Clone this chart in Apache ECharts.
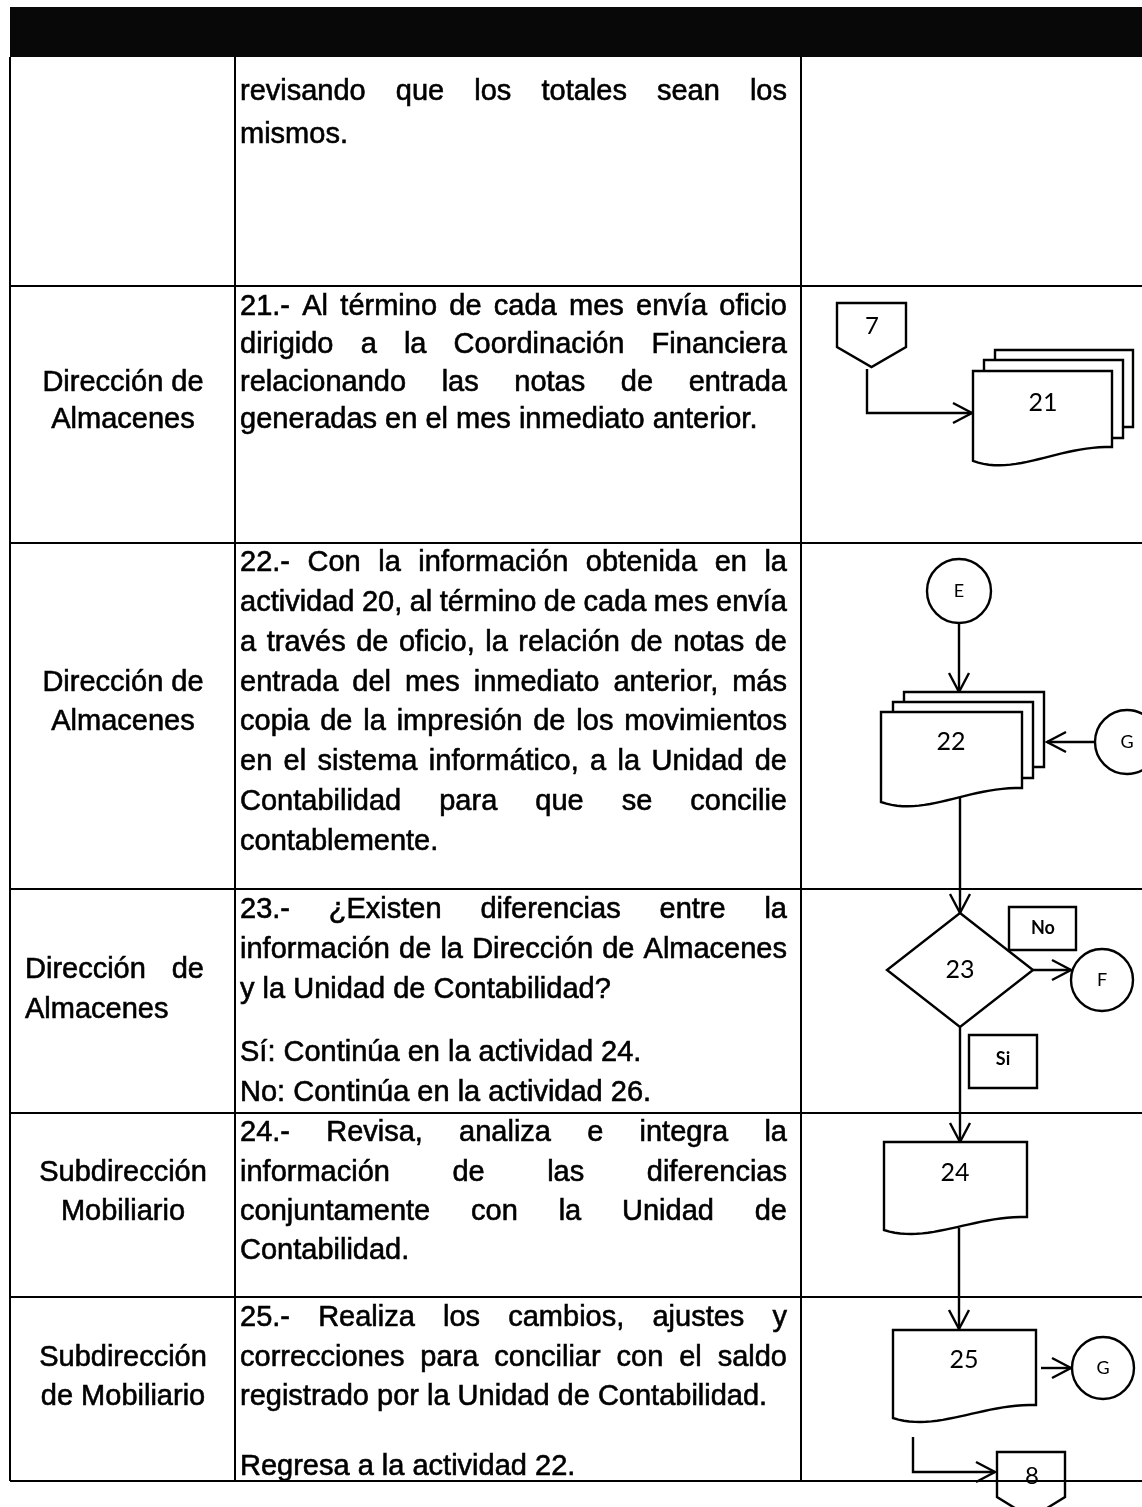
<!DOCTYPE html>
<html><head><meta charset="utf-8">
<script src="https://cdn.jsdelivr.net/npm/echarts@6/dist/echarts.min.js"></script>
<style>html,body{margin:0;padding:0;background:#fff}#c{width:1142px;height:1507px}</style>
</head><body><div id="c"></div>
<script>
// ---------------- content (data) ----------------
const row20Text = ['revisando que los totales sean los', 'mismos.'];
const row21Text = ['21.- Al término de cada mes envía oficio', 'dirigido a la Coordinación Financiera', 'relacionando las notas de entrada', 'generadas en el mes inmediato anterior.'];
const row22Text = ['22.- Con la información obtenida en la', 'actividad 20, al término de cada mes envía', 'a través de oficio, la relación de notas de', 'entrada del mes inmediato anterior, más', 'copia de la impresión de los movimientos', 'en el sistema informático, a la Unidad de', 'Contabilidad para que se concilie', 'contablemente.'];
const row23Text = ['23.- ¿Existen diferencias entre la', 'información de la Dirección de Almacenes', 'y la Unidad de Contabilidad?', 'Sí: Continúa en la actividad 24.', 'No: Continúa en la actividad 26.'];
const row24Text = ['24.- Revisa, analiza e integra la', 'información de las diferencias', 'conjuntamente con la Unidad de', 'Contabilidad.'];
const row25Text = ['25.- Realiza los cambios, ajustes y', 'correcciones para conciliar con el saldo', 'registrado por la Unidad de Contabilidad.', 'Regresa a la actividad 22.'];
const rowActors = [[], ['Dirección de', 'Almacenes'], ['Dirección de', 'Almacenes'], ['Dirección de', 'Almacenes'], ['Subdirección', 'Mobiliario'], ['Subdirección', 'de Mobiliario']];
const justifiedCount = [1, 3, 7, 2, 3, 2];
const stepLabels = ['21', '22', '23', '24', '25'];
const connectorLabels = ['7', 'E', 'G', 'F', 'G', '8'];
const branchLabels = ['No', 'Si'];

// ---------------- layout (page units) ----------------
const PAGE_W = 1142, PAGE_H = 1507;
const layout = {
  header: [10, 7, 1142, 57],
  colX: [10, 235, 801],
  rowY: [57, 286, 543, 889, 1113, 1297, 1481],
  textLeft: 240, textRight: 787,
  descY: [[92, 135], [307, 345, 383, 420], [563, 603, 643, 683, 722, 762, 802, 842], [910, 950, 990, 1053, 1093], [1133, 1173, 1212, 1251], [1318, 1358, 1397, 1467]],
  actorY: [[], [383, 420], [683, 722], [970, 1010], [1173, 1212], [1358, 1397]],
  actorCenter: 123, actorLeft: 25, actorRight: 204
};
const FONT_FAMILY = '"Liberation Sans", Arial, sans-serif';
const FS = 29;
const LABEL_FAMILY = 'Lato, "Open Sans", sans-serif';

const rowTexts = [row20Text, row21Text, row22Text, row23Text, row24Text, row25Text];

// ---------------- text items ----------------
const textItems = [];
rowTexts.forEach((lines, r) => {
  lines.forEach((t, i) => {
    const y = layout.descY[r][i];
    if (i < justifiedCount[r]) textItems.push({kind: 'justify', x0: layout.textLeft, x1: layout.textRight, y, text: t});
    else textItems.push({kind: 'text', x: layout.textLeft, y, text: t, align: 'left'});
  });
});
rowActors.forEach((lines, r) => {
  lines.forEach((t, i) => {
    const y = layout.actorY[r][i];
    if (r === 3) {
      if (i === 0) textItems.push({kind: 'justify', x0: layout.actorLeft, x1: layout.actorRight, y, text: t});
      else textItems.push({kind: 'text', x: layout.actorLeft, y, text: t, align: 'left'});
    } else textItems.push({kind: 'text', x: layout.actorCenter, y, text: t, align: 'center'});
  });
});

const mctx = document.createElement('canvas').getContext('2d');
function measure(t, font) { mctx.font = font; return mctx.measureText(t).width; }

// ---------------- shapes ----------------
const SW = 2.4;
const shapes = [];
shapes.push({t: 'rect', r: layout.header, fill: '#080808', stroke: null});
const L = layout;
L.colX.forEach(x => shapes.push({t: 'line', pts: [[x, L.rowY[0]], [x, L.rowY[L.rowY.length - 1]]], w: 2}));
L.rowY.slice(1).forEach(y => shapes.push({t: 'line', pts: [[L.colX[0], y], [PAGE_W, y]], w: 2}));

// step 21
shapes.push({t: 'offpage', b: [837, 303, 906, 347], tip: 367, fill: '#fff'});
shapes.push({t: 'label', x: 872, y: 326, text: connectorLabels[0], size: 24});
shapes.push({t: 'arrow', pts: [[867, 369], [867, 413], [972, 413]]});
shapes.push({t: 'rect', r: [995, 350, 1133, 427], fill: '#fff'});
shapes.push({t: 'rect', r: [984, 360, 1123, 438], fill: '#fff'});
shapes.push({t: 'doc', x0: 973, yT: 371, x1: 1112, yR: 447, yL: 461});
shapes.push({t: 'label', x: 1043, y: 403, text: stepLabels[0], size: 25});

// step 22
shapes.push({t: 'circle', c: [959, 591], r: 32});
shapes.push({t: 'label', x: 959, y: 591, text: connectorLabels[1], size: 18});
shapes.push({t: 'arrow', pts: [[959, 623], [959, 692]]});
shapes.push({t: 'rect', r: [904, 692, 1044, 767], fill: '#fff'});
shapes.push({t: 'rect', r: [893, 702, 1033, 778], fill: '#fff'});
shapes.push({t: 'doc', x0: 881, yT: 712, x1: 1022, yR: 788, yL: 802});
shapes.push({t: 'label', x: 951, y: 742, text: stepLabels[1], size: 25});
shapes.push({t: 'circle', c: [1127, 742], r: 32});
shapes.push({t: 'label', x: 1127, y: 742, text: connectorLabels[2], size: 18});
shapes.push({t: 'arrow', pts: [[1095, 742], [1047, 742]]});
shapes.push({t: 'arrow', pts: [[960, 797], [960, 913]]});

// step 23
shapes.push({t: 'diamond', c: [960, 970], hw: 73, hh: 57});
shapes.push({t: 'label', x: 960, y: 970, text: stepLabels[2], size: 25});
shapes.push({t: 'rect', r: [1009, 907, 1076, 950], fill: '#fff'});
shapes.push({t: 'label', x: 1043, y: 928, text: branchLabels[0], size: 18, bold: true});
shapes.push({t: 'arrow', pts: [[1033, 970], [1071, 970]]});
shapes.push({t: 'circle', c: [1102, 980], r: 31});
shapes.push({t: 'label', x: 1102, y: 980, text: connectorLabels[3], size: 18});
shapes.push({t: 'arrow', pts: [[960, 1027], [960, 1142]]});
shapes.push({t: 'rect', r: [969, 1035, 1037, 1088], fill: '#fff'});
shapes.push({t: 'label', x: 1003, y: 1059, text: branchLabels[1], size: 18, bold: true});

// step 24
shapes.push({t: 'doc', x0: 884, yT: 1142, x1: 1027, yR: 1217, yL: 1230});
shapes.push({t: 'label', x: 955, y: 1173, text: stepLabels[3], size: 25});
shapes.push({t: 'arrow', pts: [[959, 1228], [959, 1329]]});

// step 25
shapes.push({t: 'doc', x0: 893, yT: 1330, x1: 1036, yR: 1405, yL: 1418});
shapes.push({t: 'label', x: 964, y: 1360, text: stepLabels[4], size: 25});
shapes.push({t: 'arrow', pts: [[1041, 1368], [1071, 1368]]});
shapes.push({t: 'circle', c: [1103, 1368], r: 31});
shapes.push({t: 'label', x: 1103, y: 1368, text: connectorLabels[4], size: 18});
shapes.push({t: 'arrow', pts: [[913, 1437], [913, 1472], [995, 1472]]});
shapes.push({t: 'offpage', b: [997, 1452, 1065, 1497], tip: 1518, fill: null});
shapes.push({t: 'label', x: 1032, y: 1476, text: connectorLabels[5], size: 24});

function cubic(p0, p1, p2, p3, n) {
  const out = [];
  for (let i = 0; i <= n; i++) {
    const t = i / n, u = 1 - t;
    out.push([u*u*u*p0[0] + 3*u*u*t*p1[0] + 3*u*t*t*p2[0] + t*t*t*p3[0], u*u*u*p0[1] + 3*u*u*t*p1[1] + 3*u*t*t*p2[1] + t*t*t*p3[1]]);
  }
  return out;
}

function renderShape(params, api) {
  const s = shapes[params.dataIndex];
  const c = (p) => api.coord(p);
  const stroke = {stroke: '#000', lineWidth: SW, fill: null};
  if (s.t === 'rect') {
    const a = c([s.r[0], s.r[1]]), b = c([s.r[2], s.r[3]]);
    return {type: 'rect', shape: {x: a[0], y: a[1], width: b[0] - a[0], height: b[1] - a[1]},
      style: s.stroke === null ? {fill: s.fill} : {fill: s.fill || null, stroke: '#000', lineWidth: SW}};
  }
  if (s.t === 'line') {
    return {type: 'polyline', shape: {points: s.pts.map(c)}, style: {stroke: '#000', lineWidth: s.w || SW, fill: null}};
  }
  if (s.t === 'arrow') {
    const pts = s.pts.map(c);
    const tip = pts[pts.length - 1], prev = pts[pts.length - 2];
    const dx = tip[0] - prev[0], dy = tip[1] - prev[1], d = Math.hypot(dx, dy);
    const ux = dx / d, uy = dy / d, len = 19, hw = 10;
    const head = [[tip[0] - ux*len - uy*hw, tip[1] - uy*len + ux*hw], tip, [tip[0] - ux*len + uy*hw, tip[1] - uy*len - ux*hw]];
    return {type: 'group', children: [
      {type: 'polyline', shape: {points: pts}, style: stroke},
      {type: 'polyline', shape: {points: head}, style: stroke}
    ]};
  }
  if (s.t === 'doc') {
    const w = s.x1 - s.x0, dy = s.yL - s.yR;
    const curve = cubic([s.x1, s.yR], [s.x0 + w*0.62, s.yR - dy*0.1], [s.x0 + w*0.3, s.yL + dy*1.1], [s.x0, s.yL], 24);
    const pts = [[s.x0, s.yT], [s.x1, s.yT]].concat(curve);
    return {type: 'polygon', shape: {points: pts.map(c)}, style: {fill: '#fff', stroke: '#000', lineWidth: SW}};
  }
  if (s.t === 'offpage') {
    const b = s.b;
    const pts = [[b[0], b[1]], [b[2], b[1]], [b[2], b[3]], [(b[0] + b[2]) / 2, s.tip], [b[0], b[3]]];
    return {type: 'polygon', shape: {points: pts.map(c)}, style: {fill: s.fill, stroke: '#000', lineWidth: SW}};
  }
  if (s.t === 'circle') {
    const p = c(s.c);
    return {type: 'circle', shape: {cx: p[0], cy: p[1], r: s.r}, style: {fill: '#fff', stroke: '#000', lineWidth: SW}};
  }
  if (s.t === 'diamond') {
    const [x, y] = s.c;
    const pts = [[x, y - s.hh], [x + s.hw, y], [x, y + s.hh], [x - s.hw, y]];
    return {type: 'polygon', shape: {points: pts.map(c)}, style: {fill: '#fff', stroke: '#000', lineWidth: SW}};
  }
  if (s.t === 'label') {
    const p = c([s.x, s.y]);
    return {type: 'text', x: p[0], y: p[1], style: {text: s.text, fill: '#000',
      font: (s.bold ? 'bold ' : '') + s.size + 'px ' + LABEL_FAMILY,
      align: 'center', verticalAlign: 'middle', textAlign: 'center', textVerticalAlign: 'middle'}};
  }
  return null;
}

function renderText(params, api) {
  const it = textItems[params.dataIndex];
  const font = FS + 'px ' + FONT_FAMILY;
  const mk = (x, y, t, align) => {
    const p = api.coord([x, y]);
    return {type: 'text', x: p[0], y: p[1], style: {text: t, fill: '#000', font,
      stroke: '#000', lineWidth: 0.6,
      align, verticalAlign: 'middle', textAlign: align, textVerticalAlign: 'middle'}};
  };
  if (it.kind === 'text') return mk(it.x, it.y, it.text, it.align);
  const words = it.text.split(' ');
  const ws = words.map(w => measure(w, font));
  const total = ws.reduce((a, b) => a + b, 0);
  const gap = words.length > 1 ? (it.x1 - it.x0 - total) / (words.length - 1) : 0;
  let x = it.x0;
  const children = words.map((w, i) => { const el = mk(x, it.y, w, 'left'); x += ws[i] + gap; return el; });
  return {type: 'group', children};
}

const chart = echarts.init(document.getElementById('c'), null, {renderer: 'canvas'});
chart.setOption({
  animation: false,
  backgroundColor: '#fff',
  grid: {left: 0, right: 0, top: 0, bottom: 0},
  xAxis: {type: 'value', min: 0, max: PAGE_W, show: false},
  yAxis: {type: 'value', min: 0, max: PAGE_H, inverse: true, show: false},
  series: [
    {type: 'custom', coordinateSystem: 'cartesian2d', renderItem: renderShape, clip: false,
      data: shapes.map((s, i) => [0, 0, i]), silent: true},
    {type: 'custom', coordinateSystem: 'cartesian2d', renderItem: renderText, clip: false,
      data: textItems.map((s, i) => [0, 0, i]), silent: true}
  ]
});
</script></body></html>
